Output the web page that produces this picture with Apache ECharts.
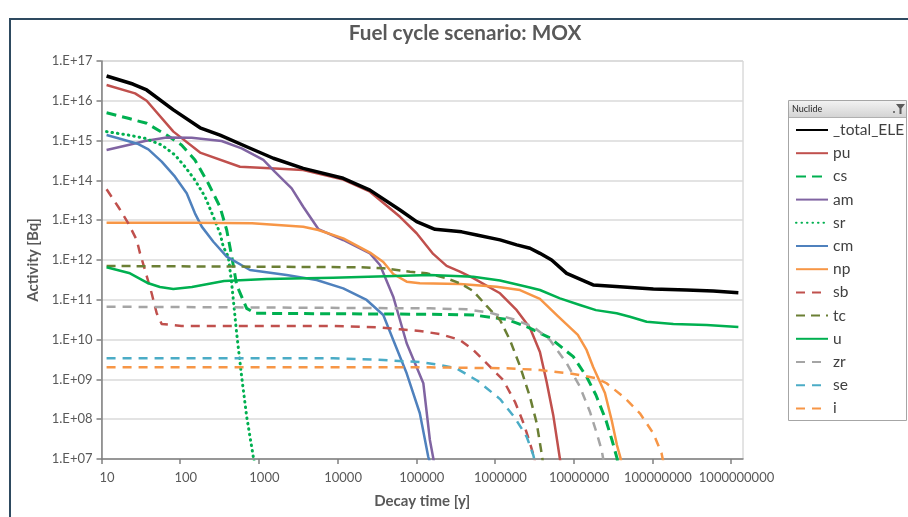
<!DOCTYPE html>
<html>
<head>
<meta charset="utf-8">
<title>Fuel cycle scenario: MOX</title>
<script src="https://cdn.jsdelivr.net/npm/echarts@6/dist/echarts.min.js"></script>
<style>
  html, body { margin: 0; padding: 0; background: #fff; }
  #chart { width: 908px; height: 517px; }
</style>
</head>
<body>
<div id="chart"></div>
<script>
// Activity [Bq] of each nuclide versus decay time [y], as [time, activity] pairs
const total = [[11.6,4.2e16],[25,2.64e16],[37.5,1.87e16],[82,5.9e15],[179,2.1e15],[321,1.38e15],[700,7.0e14],[1525,3.6e14],[3660,2.0e14],[11800,1.13e14],[25800,5.7e13],[62100,1.8e13],[101000,9.2e12],[173000,5.9e12],[378000,5.1e12],[586000,4.25e12],[1.16e6,3.2e12],[1.89e6,2.4e12],[2.79e6,1.97e12],[3.73e6,1.47e12],[5.25e6,1.0e12],[8.15e6,4.6e11],[1.77e7,2.36e11],[3.87e7,2.13e11],[1.03e8,1.87e11],[2.73e8,1.76e11],[5.94e8,1.66e11],[1.24e9,1.51e11]];
const pu = [[11.6,2.5e16],[26.7,1.54e16],[37.5,1.0e16],[82,1.68e15],[179,5.0e14],[575,2.2e14],[1600,2.0e14],[3660,1.83e14],[11800,1.05e14],[25800,5.2e13],[62100,1.22e13],[101000,4.7e12],[164000,1.42e12],[243000,7.1e11],[359000,5.1e11],[530000,3.5e11],[1.16e6,1.46e11],[1.89e6,5.5e10],[2.79e6,1.96e10],[3.73e6,4.9e9],[4.54e6,8.6e8],[5.5e6,1.28e8],[6.7e6,1e7],[7.3e6,3e6]];
const cs = [[11.6,5.0e15],[21.9,3.63e15],[37.5,2.72e15],[67.3,1.38e15],[104,7.75e14],[154,3.26e14],[227,8.46e13],[320,2.18e13],[390,5.67e12],[451,1.26e12],[522,2.36e11],[700,6.1e10],[892,4.58e10],[149000,4.33e10],[530000,4.15e10],[1.41e6,3.24e10],[2.53e6,2.11e10],[5.0e6,1.1e10],[9.9e6,3.72e9],[1.46e7,1.17e9],[1.92e7,4.06e8],[2.57e7,9.5e7],[3.07e7,3.0e7],[3.55e7,1.07e7],[3.77e7,5.3e6]];
const am = [[11.6,5.8e14],[21.9,7.75e14],[35.7,9.77e14],[67.3,1.2e15],[140,1.18e15],[336,9.77e14],[604,6.4e14],[1140,3.26e14],[1600,1.63e14],[2610,6.3e13],[3660,2.18e13],[5690,6.0e12],[11800,3.18e12],[25800,1.46e12],[34600,7.5e11],[51000,1.2e11],[75500,8.1e9],[123000,8.0e8],[149000,3.0e7],[168000,8.4e6]];
const sr = [[11.6,1.68e15],[21.9,1.38e15],[35.7,1.14e15],[58.2,7.75e14],[85.9,4.35e14],[115,2.21e14],[154,1.02e14],[207,3.89e13],[264,1.22e13],[321,4.69e12],[353,2.16e12],[409,1.21e12],[451,2.6e11],[522,1.44e10],[604,1.17e9],[700,1.16e8],[849,1.14e7],[892,6.6e6]];
const cm = [[11.6,1.38e15],[18.1,1.08e15],[29.4,8.2e14],[39.4,6.0e14],[58.2,2.95e14],[85.9,1.24e14],[121,4.74e13],[154,1.49e13],[188,6.9e12],[264,2.88e12],[390,1.21e12],[771,5.6e11],[2250,4.2e11],[5420,3.14e11],[11800,1.94e11],[23400,9.9e10],[38100,4.15e10],[51000,9.8e9],[75500,1.42e9],[111000,1.41e8],[142000,1.14e7],[154000,6.6e6]];
const np = [[11.6,8.65e12],[154,8.65e12],[820,8.36e12],[3660,6.87e12],[5690,5.68e12],[11800,3.5e12],[25800,1.54e12],[38100,8.9e11],[51000,4.45e11],[75500,2.85e11],[111000,2.6e11],[359000,2.5e11],[1.05e6,2.13e11],[2.08e6,1.76e11],[3.73e6,1.05e11],[6.3e6,3.9e10],[1.13e7,1.31e10],[1.46e7,5.5e9],[1.77e7,2.05e9],[2.5e7,4.55e8],[3.04e7,9.5e7],[3.55e7,2.24e7],[3.94e7,1.07e7],[4.11e7,5.9e6]];
const sb = [[11.6,5.97e13],[16.3,2.18e13],[21.9,8.36e12],[28,3.18e12],[30.9,1.47e12],[35.7,5.6e11],[43.4,1.46e11],[50.3,4.58e10],[58.2,2.47e10],[104,2.2e10],[8700,2.2e10],[31400,2.04e10],[62100,1.82e10],[111000,1.64e10],[200000,1.38e10],[359000,9.8e9],[530000,5.5e9],[863000,2.09e9],[1.27e6,9.7e8],[1.8e6,2.7e8],[2.33e6,7.6e7],[2.79e6,2.5e7],[3.16e6,1.06e7],[3.25e6,6.7e6]];
const tc = [[11.6,7.06e11],[820,6.8e11],[19300,6.56e11],[38100,6.18e11],[83200,5.08e11],[135000,4.63e11],[243000,3.47e11],[359000,2.6e11],[530000,1.66e11],[784000,7.0e10],[1.16e6,3.1e10],[1.55e6,9.8e9],[2.08e6,2.17e9],[2.79e6,3.6e8],[3.39e6,8.0e7],[3.95e6,1.26e7],[4.13e6,6.6e6]];
const u = [[11.6,6.56e11],[23,4.63e11],[39.4,2.6e11],[55.3,2.1e11],[81.7,1.87e11],[141,2.1e11],[361,2.97e11],[1260,3.33e11],[8810,3.59e11],[149000,4.2e11],[530000,3.8e11],[1.16e6,3.05e11],[2.53e6,2.13e11],[3.73e6,1.76e11],[6.7e6,1.09e11],[1.2e7,7.4e10],[1.92e7,5.5e10],[3.52e7,4.58e10],[5.19e7,3.76e10],[8.47e7,2.82e10],[1.85e8,2.47e10],[4.9e8,2.33e10],[1.24e9,2.07e10]];
const zr = [[11.6,6.7e10],[149000,6.1e10],[437000,5.77e10],[863000,4.74e10],[1.71e6,3.24e10],[3.07e6,2.11e10],[5.0e6,9.8e9],[8.15e6,2.54e9],[1.2e7,6.6e8],[1.61e7,1.54e8],[1.96e7,4.5e7],[2.27e7,1.68e7],[2.39e7,9.4e6]];
const se = [[11.6,3.39e9],[8810,3.39e9],[38100,3.07e9],[111000,2.73e9],[200000,2.3e9],[326000,1.88e9],[608000,9.1e8],[1.16e6,3.2e8],[1.8e6,1.07e8],[2.53e6,3.63e7],[3.07e6,1.26e7],[3.22e6,8.3e6]];
const iodine = [[11.6,2.01e9],[149000,2.01e9],[1.41e6,1.9e9],[3.73e6,1.72e9],[9.9e6,1.37e9],[1.96e7,1.07e9],[2.62e7,8.0e8],[4.49e7,3.4e8],[6.95e7,1.41e8],[1.03e8,4.4e7],[1.31e8,1.39e7],[1.38e8,8.4e6]];

// Legend names, in legend order
const nuclides = ['_total_ELE','pu','cs','am','sr','cm','np','sb','tc','u','zr','se','i'];

// Axis decades (log10)
const timeDecades = [1,2,3,4,5,6,7,8,9];
const activityDecades = [7,8,9,10,11,12,13,14,15,16,17];

const FONT = 'Lato, "Liberation Sans", sans-serif';
const TXT = '#595959';

const styles = {
  '_total_ELE': { color: '#000000', width: 3.5, type: 'solid' },
  'pu': { color: '#c0504d', width: 2.5, type: 'solid' },
  'cs': { color: '#00b050', width: 3, type: [10, 6] },
  'am': { color: '#8064a2', width: 2.5, type: 'solid' },
  'sr': { color: '#00b050', width: 3, type: [0.5, 5], cap: 'round' },
  'cm': { color: '#4f81bd', width: 2.5, type: 'solid' },
  'np': { color: '#f79646', width: 2.5, type: 'solid' },
  'sb': { color: '#c0504d', width: 2.5, type: [9, 7] },
  'tc': { color: '#6b7f34', width: 2.5, type: [9, 6] },
  'u': { color: '#00b050', width: 2.5, type: 'solid' },
  'zr': { color: '#a5a5a5', width: 2.5, type: [9, 7] },
  'se': { color: '#4bacc6', width: 2.5, type: [9, 7] },
  'i': { color: '#f79646', width: 2.5, type: [9, 7] }
};
const dataByName = { '_total_ELE': total, pu, cs, am, sr, cm, np, sb, tc, u, zr, se, 'i': iodine };

// Both axes are decades: plot log10 of time and activity on linear value axes
const toLog = pts => pts.map(p => [Math.log10(p[0]), Math.log10(p[1])]);

const series = nuclides.map(name => {
  const s = styles[name];
  return {
    name,
    type: 'line',
    data: toLog(dataByName[name]),
    showSymbol: false,
    symbol: 'none',
    clip: true,
    z: name === '_total_ELE' ? 4 : 3,
    lineStyle: { color: s.color, width: s.width, type: s.type, cap: s.cap || 'butt', join: 'round' },
    itemStyle: { color: s.color },
    emphasis: { disabled: true },
    animation: false
  };
});

const chart = echarts.init(document.getElementById('chart'), null, { renderer: 'canvas' });

chart.setOption({
  animation: false,
  backgroundColor: '#ffffff',
  textStyle: { fontFamily: FONT },
  title: {
    text: 'Fuel cycle scenario: MOX',
    left: 460,
    top: 18,
    textAlign: 'center',
    textStyle: { fontFamily: FONT, fontSize: 20.7, fontWeight: 'bold', color: TXT }
  },
  grid: {
    left: 101.5, top: 61, right: 165, bottom: 58,
    show: true, borderColor: '#c8c8c8', borderWidth: 1, backgroundColor: 'transparent'
  },
  legend: {
    data: nuclides,
    orient: 'vertical',
    left: 795,
    top: 122,
    padding: 0,
    itemWidth: 32,
    itemHeight: 14,
    itemGap: 7.2,
    selectedMode: false,
    // line-only keys: hide the symbol drawn in the middle of each key
    itemStyle: { color: 'rgba(0,0,0,0)', borderColor: 'rgba(0,0,0,0)', borderWidth: 0 },
    textStyle: { fontFamily: FONT, fontSize: 15.5, color: '#404040', lineHeight: 14 }
  },
  xAxis: {
    type: 'value',
    min: 1,
    max: Math.log10(1.42e9),
    interval: 1,
    name: 'Decay time [y]',
    nameLocation: 'middle',
    nameGap: 35,
    nameTextStyle: { fontFamily: FONT, fontSize: 15, fontWeight: 'bold', color: TXT },
    axisLine: { show: true, onZero: false, lineStyle: { color: '#808080', width: 1.5 } },
    axisTick: { show: true, length: 5, customValues: timeDecades, lineStyle: { color: '#808080', width: 1.5 } },
    axisLabel: {
      customValues: timeDecades,
      formatter: v => String(Math.round(Math.pow(10, v))),
      fontFamily: FONT, fontSize: 13, color: TXT, margin: 12,
      padding: [0, 0, 0, 11]
    },
    splitLine: { show: false }
  },
  yAxis: {
    type: 'value',
    min: 7,
    max: 17,
    interval: 1,
    name: 'Activity [Bq]',
    nameLocation: 'middle',
    nameGap: 55,
    nameTextStyle: { fontFamily: FONT, fontSize: 15, fontWeight: 'bold', color: TXT },
    axisLine: { show: true, lineStyle: { color: '#808080', width: 1.5 } },
    axisTick: { show: true, length: 5, lineStyle: { color: '#808080', width: 1.5 } },
    axisLabel: {
      customValues: activityDecades,
      formatter: v => '1.E+' + String(Math.round(v)).padStart(2, '0'),
      fontFamily: FONT, fontSize: 13, color: TXT, margin: 9
    },
    splitLine: { show: true, lineStyle: { color: '#dadada', width: 1.5 } }
  },
  graphic: [
    // outer chart frame
    { type: 'rect', z: -10, silent: true,
      shape: { x: 10, y: 19, width: 1000, height: 600 },
      style: { fill: 'none', stroke: '#2e4a60', lineWidth: 2 } },
    // legend box and its header
    { type: 'rect', z: -5, silent: true,
      shape: { x: 788.5, y: 100.5, width: 118, height: 320 },
      style: { fill: '#ffffff', stroke: '#a6a6a6', lineWidth: 1 } },
    { type: 'rect', z: -4, silent: true,
      shape: { x: 789, y: 101, width: 117, height: 16 },
      style: { fill: new echarts.graphic.LinearGradient(0, 0, 0, 1, [
        { offset: 0, color: '#f2f2f2' }, { offset: 1, color: '#d4d4d4' }]) } },
    { type: 'line', z: -4, silent: true,
      shape: { x1: 789, y1: 117.5, x2: 906, y2: 117.5 },
      style: { stroke: '#b0b0b0', lineWidth: 1 } },
    { type: 'text', z: -3, silent: true, x: 792, y: 109,
      style: { text: 'Nuclide', fontFamily: FONT, fontSize: 9, fill: '#262626', verticalAlign: 'middle' } },
    { type: 'circle', z: -3, silent: true, shape: { cx: 894, cy: 112, r: 1 }, style: { fill: '#555' } },
    { type: 'polygon', z: -3, silent: true,
      shape: { points: [[896, 104], [905, 104], [901.5, 108.5], [901.5, 114], [899.5, 114], [899.5, 108.5]] },
      style: { fill: '#5a5a5a' } }
  ],
  series
});
</script>
</body>
</html>
